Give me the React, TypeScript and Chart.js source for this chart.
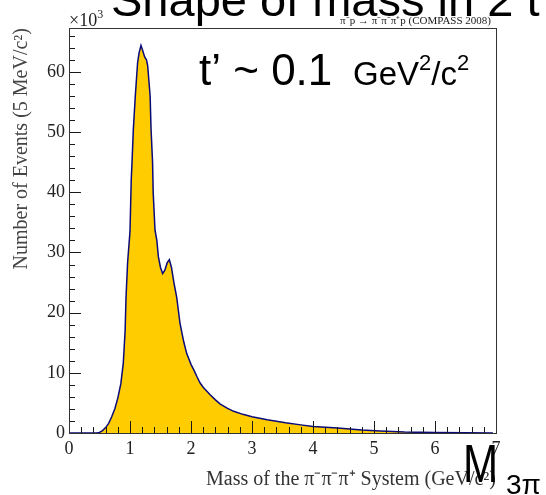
import React, { useEffect, useRef } from 'react';
import { Chart, registerables } from 'chart.js';

Chart.register(...registerables);

// Mass of the 3-pion system (GeV/c^2)
const massGeV = [
  0.0, 0.45, 0.5, 0.55, 0.6, 0.65, 0.7, 0.75, 0.8, 0.85, 0.89, 0.92, 0.935, 0.96, 1.0, 1.02,
  1.033, 1.055, 1.087, 1.125, 1.15, 1.18, 1.2, 1.24, 1.27, 1.29, 1.31, 1.33, 1.345, 1.37,
  1.38, 1.41, 1.44, 1.465, 1.5, 1.535, 1.57, 1.61, 1.645, 1.68, 1.72, 1.765, 1.82, 1.88,
  1.93, 2.0, 2.05, 2.1, 2.15, 2.2, 2.31, 2.4, 2.48, 2.6, 2.7, 2.85, 3.0, 3.25, 3.55, 3.8,
  4.0, 4.4, 4.8, 5.1, 5.5, 6.0, 6.5, 6.95,
];
// Number of events per 5 MeV/c^2 (x10^3)
const eventsK = [
  0, 0, 0.1, 0.4, 0.9, 1.6, 2.7, 4.0, 5.8, 8.2, 11.6, 17.0, 22.6, 28.2, 33.5, 42.0,
  45.0, 50.5, 56.0, 61.6, 63.2, 64.4, 63.8, 62.5, 62.0, 61.0, 58.5, 56.0, 50.5, 45.0,
  40.0, 33.7, 32.0, 29.3, 27.5, 26.5, 27.0, 28.3, 28.8, 27.5, 25.0, 22.6, 18.2, 15.2,
  13.2, 11.4, 10.4, 9.3, 8.3, 7.6, 6.4, 5.5, 4.8, 4.1, 3.6, 3.1, 2.7, 2.2, 1.7, 1.35,
  1.1, 0.85, 0.5, 0.35, 0.15, 0.08, 0.03, 0.02,
];

const xTickValues = [0, 1, 2, 3, 4, 5, 6, 7];
const yTickValues = [0, 10, 20, 30, 40, 50, 60];
const xRange = [0, 7];
const yRange = [0, 67.3];
const xMinorStep = 0.2;
const yMinorStep = 2;

const SERIF = '"Liberation Serif", "Times New Roman", serif';
const SANS = '"Liberation Sans", Arial, sans-serif';

const framePlugin = {
  id: 'rootFrame',
  afterDatasetsDraw(chart: any) {
    const { ctx, chartArea: a, scales } = chart;
    const xs = scales.x;
    const ys = scales.y;
    ctx.save();
    ctx.strokeStyle = '#1a1a1a';
    ctx.lineWidth = 1;
    ctx.beginPath();
    const nY = Math.floor((yRange[1] - yRange[0]) / yMinorStep + 1e-6);
    for (let i = 0; i <= nY; i++) {
      const v = yRange[0] + i * yMinorStep;
      const py = Math.round(ys.getPixelForValue(v)) + 0.5;
      const len = i % 5 === 0 ? 12 : 6;
      ctx.moveTo(a.left, py);
      ctx.lineTo(a.left + len, py);
    }
    const nX = Math.round((xRange[1] - xRange[0]) / xMinorStep);
    for (let i = 0; i <= nX; i++) {
      const v = xRange[0] + i * xMinorStep;
      const px = Math.round(xs.getPixelForValue(v)) + 0.5;
      const len = i % 5 === 0 ? 12 : 6;
      ctx.moveTo(px, a.bottom);
      ctx.lineTo(px, a.bottom - len);
    }
    ctx.stroke();
    ctx.strokeStyle = '#333';
    ctx.strokeRect(Math.round(a.left) + 0.5, Math.round(a.top) + 0.5, Math.round(a.right - a.left), Math.round(a.bottom - a.top));
    ctx.restore();
  },
};

const overlayPlugin = {
  id: 'overlayText',
  afterDraw(chart: any) {
    const { ctx } = chart;
    ctx.save();
    ctx.fillStyle = '#000';
    ctx.textBaseline = 'alphabetic';
    ctx.textAlign = 'left';

    // slide title (clipped at the top)
    ctx.font = `47px ${SANS}`;
    ctx.fillText('Shape of mass in 2 t', 111, 16);

    // x10^3
    ctx.fillStyle = '#222';
    ctx.font = `18px ${SERIF}`;
    ctx.fillText('\u00d710', 69, 26);
    const w10 = ctx.measureText('\u00d710').width;
    ctx.font = `12px ${SERIF}`;
    ctx.fillText('3', 69 + w10, 18);

    // reaction label
    ctx.font = `11px ${SERIF}`;
    ctx.textAlign = 'right';
    ctx.fillText('\u03c0\u207bp \u2192 \u03c0\u207b\u03c0\u207b\u03c0\u207ap (COMPASS 2008)', 491, 24);
    ctx.textAlign = 'left';

    // t' label
    ctx.fillStyle = '#000';
    ctx.font = `44px ${SANS}`;
    ctx.fillText('t\u2019 ~ 0.1', 199, 85);
    let x = 353;
    const big = `33px ${SANS}`;
    const sup = `22px ${SANS}`;
    ctx.font = big;
    ctx.fillText('GeV', x, 85);
    x += ctx.measureText('GeV').width;
    ctx.font = sup;
    ctx.fillText('2', x, 70);
    x += ctx.measureText('2').width;
    ctx.font = big;
    ctx.fillText('/c', x, 85);
    x += ctx.measureText('/c').width;
    ctx.font = sup;
    ctx.fillText('2', x, 70);

    // M_3pi
    ctx.save();
    ctx.translate(463, 482);
    ctx.scale(0.78, 1);
    ctx.font = `54px ${SANS}`;
    ctx.fillText('M', 0, 0);
    ctx.restore();
    ctx.font = `28px ${SANS}`;
    ctx.fillText('3\u03c0', 506, 494);
    ctx.restore();
  },
};

export default function App() {
  const canvasRef = useRef<HTMLCanvasElement | null>(null);

  useEffect(() => {
    document.body.style.margin = '0';
    const canvas = canvasRef.current;
    if (!canvas) return;
    const points = massGeV.map((m, i) => ({ x: m, y: eventsK[i] }));
    const chart = new Chart(canvas, {
      type: 'line',
      data: {
        datasets: [
          {
            data: points,
            borderColor: '#0a0a78',
            borderWidth: 1.5,
            backgroundColor: '#FFCC00',
            fill: 'origin',
            pointRadius: 0,
            tension: 0,
          },
        ],
      },
      options: {
        responsive: false,
        animation: false,
        events: [],
        layout: { padding: { top: 28, right: 50, left: 0, bottom: 0 } },
        plugins: { legend: { display: false }, tooltip: { enabled: false } },
        scales: {
          x: {
            type: 'linear',
            min: xRange[0],
            max: xRange[1],
            grid: { display: false, drawTicks: false, tickLength: 0 },
            border: { display: false },
            afterBuildTicks: (s: any) => {
              s.ticks = xTickValues.map((v) => ({ value: v }));
            },
            afterFit: (s: any) => {
              s.height = 62;
            },
            ticks: {
              font: { family: SERIF, size: 18 },
              color: '#222',
              padding: 5,
              maxRotation: 0,
              autoSkip: false,
            },
            title: {
              display: true,
              text: 'Mass of the \u03c0\u207b\u03c0\u207b\u03c0\u207a System (GeV/c\u00b2)',
              align: 'end',
              font: { family: SERIF, size: 20 },
              color: '#333',
              padding: { top: 0, bottom: 3 },
            },
          },
          y: {
            type: 'linear',
            min: yRange[0],
            max: yRange[1],
            grid: { display: false, drawTicks: false, tickLength: 0 },
            border: { display: false },
            afterBuildTicks: (s: any) => {
              s.ticks = yTickValues.map((v) => ({ value: v }));
            },
            afterFit: (s: any) => {
              s.width = 69;
            },
            ticks: {
              font: { family: SERIF, size: 18 },
              color: '#222',
              padding: 4,
              autoSkip: false,
            },
            title: {
              display: true,
              text: 'Number of Events (5 MeV/c\u00b2)',
              align: 'end',
              font: { family: SERIF, size: 20 },
              color: '#444',
              padding: { top: 10, bottom: 10 },
            },
          },
        },
      },
      plugins: [framePlugin, overlayPlugin],
    });
    return () => chart.destroy();
  }, []);

  return (
    <div style={{ width: 546, height: 495, position: 'relative' }}>
      <canvas ref={canvasRef} width={546} height={495} style={{ display: 'block' }} />
    </div>
  );
}
